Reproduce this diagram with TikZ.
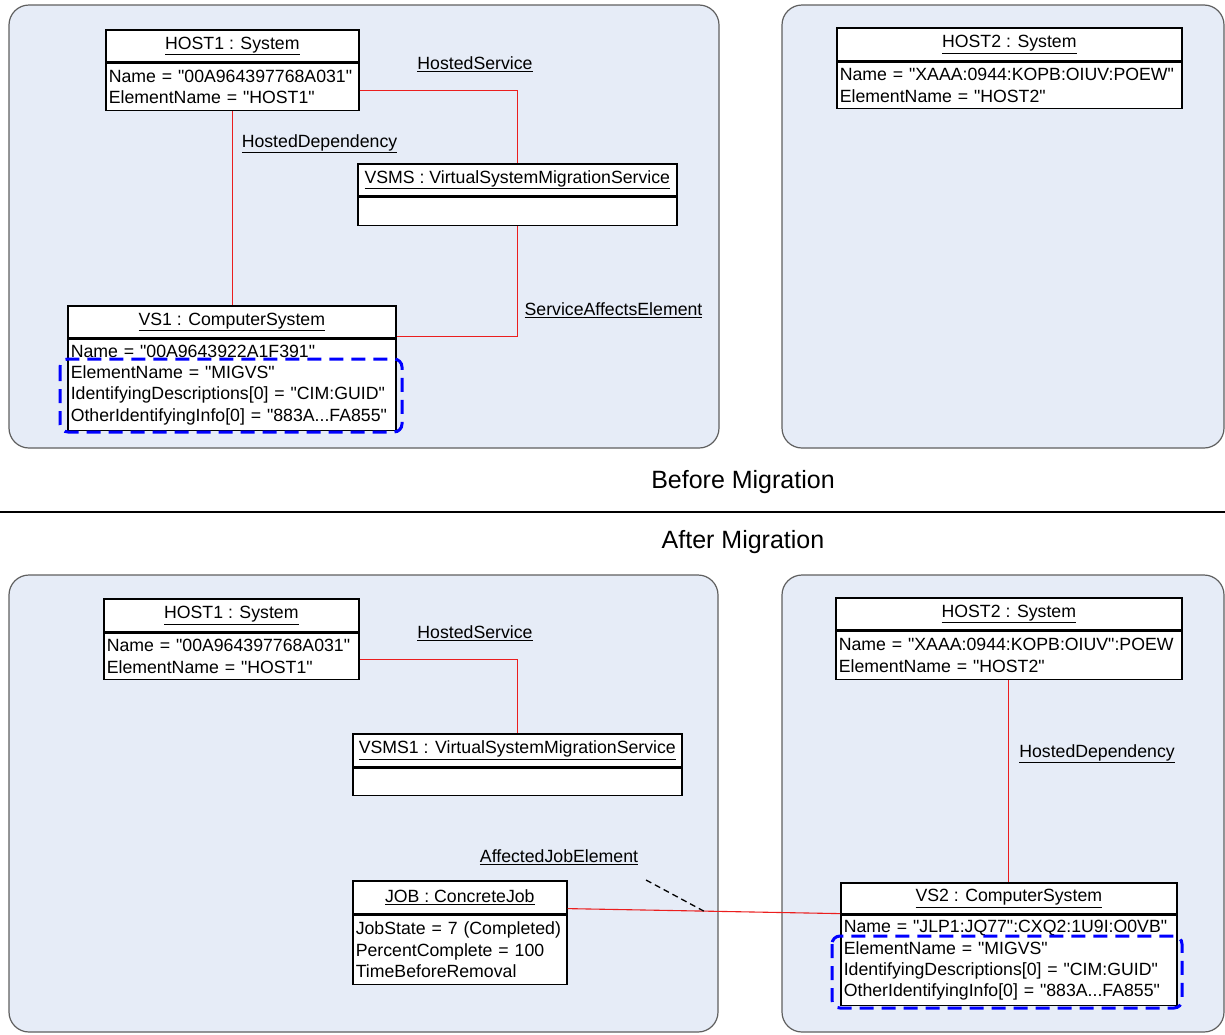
\documentclass[tikz,border=0pt]{standalone}
\usepackage{fontspec}
\setmainfont{Liberation Sans}[Ligatures=TeXOff]
\usetikzlibrary{calc}
\definecolor{panelfill}{RGB}{230,236,247}
\definecolor{panelline}{RGB}{95,95,95}
\definecolor{idblue}{RGB}{0,0,255}
\definecolor{assocred}{RGB}{235,30,30}
\newcommand{\umlbox}[8]{%
  \pgfmathsetmacro{\umltw}{#4-6}%
  \node[hdr, minimum width=#4pt, minimum height=#5pt, anchor=north west] (#1) at (#2,#3) {\underline{#7}};
  \node[bdy, minimum width=#4pt, text width=\umltw pt, minimum height=#6pt, anchor=north west] (#1b) at (#1.south west) {#8};
}
\begin{document}
\begin{tikzpicture}[x=1pt,y=-1pt, font=\fontsize{17.7}{21.3}\selectfont,
  panel/.style={draw=panelline, line width=1.2pt, fill=panelfill, rounded corners=20pt},
  hdr/.style={draw=black, line width=1.6pt, fill=white, inner sep=0pt},
  bdy/.style={draw=black, line width=1.6pt, fill=white, inner xsep=3pt, inner ysep=0pt, align=left},
  assoc/.style={draw=assocred, line width=1.1pt},
  idbox/.style={draw=idblue, line width=3pt, dash pattern=on 14pt off 8pt, rounded corners=8pt},
  lbl/.style={inner sep=0pt},
  ttl/.style={font=\fontsize{25}{30}\selectfont, inner sep=0pt}]
\useasboundingbox (0,0) rectangle (1225,1034);

% panels
\draw[panel] (9,5) rectangle (719,448);
\draw[panel] (782,5) rectangle (1224,448);
\draw[panel] (9,575) rectangle (718,1032);
\draw[panel] (782,575) rectangle (1224,1032);

% separator and titles
\draw[line width=2.5pt] (0,512) -- (1225,512);
\node[ttl] (before) at (743,482) {Before Migration};
\node[ttl] (after) at (743,542) {After Migration};

% ---------- Before ----------
\umlbox{hA}{105}{29}{253}{32}{47}{HOST1 : System}{Name = "00A964397768A031"\\ElementName = "HOST1"}
\umlbox{vsA}{357}{163}{319}{32}{28}{VSMS : VirtualSystemMigrationService}{}
\umlbox{csA}{67}{305}{328}{32}{91}{VS1 : ComputerSystem}{Name = "00A9643922A1F391"\\ElementName = "MIGVS"\\IdentifyingDescriptions[0] = "CIM:GUID"\\OtherIdentifyingInfo[0] = "883A...FA855"}
\umlbox{hB}{836}{27}{345}{33}{46}{HOST2 : System}{Name = "XAAA:0944:KOPB:OIUV:POEW"\\ElementName = "HOST2"}

\draw[assoc] ([yshift=-3.5pt]hAb.east) -| (vsA.north);
\draw[assoc] (hAb.south) -- (hAb.south |- csA.north);
\draw[assoc] (vsAb.south) |- ([yshift=2pt]csA.south east);

\node[lbl] (lhs1) at (475,64) {\underline{HostedService}};
\node[lbl] (lhd1) at (319.5,144) {\underline{HostedDependency}};
\node[lbl] (lsae) at (613.5,310) {\underline{ServiceAffectsElement}};

\draw[idbox] (60,359) rectangle (402,432);

% ---------- After ----------
\umlbox{hC}{103}{598}{255}{33}{46}{HOST1 : System}{Name = "00A964397768A031"\\ElementName = "HOST1"}
\umlbox{vsC}{352}{733}{329}{33}{27}{VSMS1 : VirtualSystemMigrationService}{}
\umlbox{job}{352}{880}{214}{33}{69}{JOB : ConcreteJob}{JobState = 7 (Completed)\\PercentComplete = 100\\TimeBeforeRemoval}
\umlbox{hD}{835}{597}{346}{32}{48}{HOST2 : System}{Name = "XAAA:0944:KOPB:OIUV":POEW\\ElementName = "HOST2"}
\umlbox{csD}{840}{882}{336}{31}{90}{VS2 : ComputerSystem}{Name = "JLP1:JQ77":CXQ2:1U9I:O0VB"\\ElementName = "MIGVS"\\IdentifyingDescriptions[0] = "CIM:GUID"\\OtherIdentifyingInfo[0] = "883A...FA855"}

\draw[assoc] ([yshift=-3pt]hCb.east) -| (vsC.north);
\draw[assoc] (hDb.south) -- (hDb.south |- csD.north);
\draw[assoc] ([yshift=6pt]job.south east) -- coordinate[pos=0.5] (ajeMid) ([yshift=1pt]csD.south west);
\coordinate (ajeEnd) at (646,880);
\draw[line width=1.3pt, dash pattern=on 6pt off 4pt] (ajeEnd) -- (ajeMid);

\node[lbl] (lhs2) at (475,633) {\underline{HostedService}};
\node[lbl] (laje) at (559,857) {\underline{AffectedJobElement}};
\node[lbl] (lhd2) at (1097,754) {\underline{HostedDependency}};

\draw[idbox] (832,936) rectangle (1182,1008);
\end{tikzpicture}
\end{document}
